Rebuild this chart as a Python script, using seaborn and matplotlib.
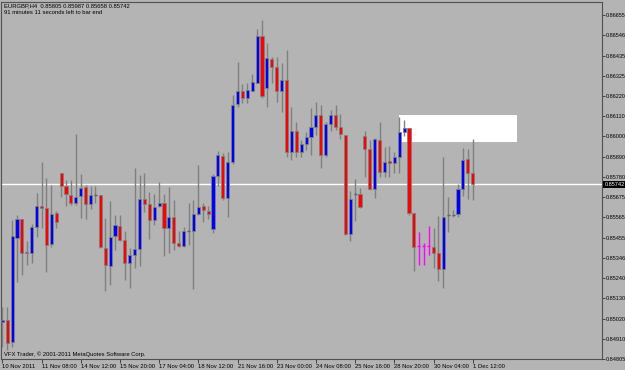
import matplotlib
matplotlib.use("Agg")
import matplotlib.pyplot as plt
import matplotlib.transforms as mtransforms
from matplotlib.patches import Rectangle
import numpy as np
import pandas as pd
import seaborn as sns

# ---------------- data (EURGBP H4) ----------------
opens = [0.85000, 0.85011, 0.84894, 0.85455, 0.85554, 0.85371, 0.85374, 0.85511, 0.85626, 0.85616,
         0.85421, 0.85586, 0.85802, 0.85735, 0.85685, 0.85643, 0.85679, 0.85726, 0.85635, 0.85685,
         0.85685, 0.85401, 0.85304, 0.85464, 0.85519, 0.85442, 0.85320, 0.85361, 0.85392, 0.85663,
         0.85636, 0.85550, 0.85626, 0.85640, 0.85505, 0.85568, 0.85428, 0.85412, 0.85492, 0.85492,
         0.85582, 0.85626, 0.85599, 0.85500, 0.85789, 0.85897, 0.85667, 0.85864, 0.86175, 0.86242,
         0.86209, 0.86247, 0.86290, 0.86542, 0.86260, 0.86416, 0.86373, 0.86245, 0.86305, 0.85918,
         0.86031, 0.85918, 0.85958, 0.85999, 0.86053, 0.86116, 0.85900, 0.86066, 0.86116, 0.86053,
         0.86008, 0.85473, 0.85689, 0.85689, 0.86004, 0.85931, 0.85717, 0.85981, 0.85810, 0.85868,
         0.85856, 0.85891, 0.86023, 0.86044, 0.85586, 0.85410, 0.85410, 0.85410, 0.85406, 0.85371,
         0.85286, 0.85577, 0.85577, 0.85582, 0.85715, 0.85879, 0.85805]
highs = [0.85081, 0.85081, 0.85550, 0.85577, 0.85556, 0.85437, 0.85529, 0.85694, 0.85861, 0.85778,
         0.85739, 0.85599, 0.85805, 0.85766, 0.85766, 0.86012, 0.85798, 0.85739, 0.85735, 0.85735,
         0.85686, 0.85559, 0.85652, 0.85577, 0.85577, 0.85491, 0.85398, 0.85829, 0.85793, 0.85805,
         0.85699, 0.85690, 0.85753, 0.85690, 0.85730, 0.85658, 0.85491, 0.85514, 0.85643, 0.85658,
         0.85847, 0.85640, 0.85627, 0.85798, 0.85922, 0.85910, 0.85915, 0.86224, 0.86398, 0.86283,
         0.86287, 0.86335, 0.86580, 0.86628, 0.86502, 0.86427, 0.86427, 0.86395, 0.86466, 0.86161,
         0.86080, 0.85981, 0.86026, 0.86152, 0.86188, 0.86170, 0.86080, 0.86143, 0.86170, 0.86121,
         0.86010, 0.85708, 0.85769, 0.85721, 0.86030, 0.85981, 0.85990, 0.86080, 0.85945, 0.85949,
         0.85918, 0.86107, 0.86089, 0.86046, 0.85588, 0.85484, 0.85428, 0.85519, 0.85505, 0.85573,
         0.85888, 0.85672, 0.85604, 0.85744, 0.85937, 0.85931, 0.85987]
lows = [0.84866, 0.84849, 0.84867, 0.85218, 0.85254, 0.85308, 0.85320, 0.85460, 0.85505, 0.85271,
        0.85406, 0.85505, 0.85676, 0.85627, 0.85631, 0.85631, 0.85559, 0.85554, 0.85608, 0.85640,
        0.85399, 0.85169, 0.85200, 0.85388, 0.85440, 0.85227, 0.85187, 0.85290, 0.85304, 0.85595,
        0.85448, 0.85523, 0.85622, 0.85358, 0.85374, 0.85388, 0.85406, 0.85406, 0.85415, 0.85177,
        0.85577, 0.85541, 0.85554, 0.85478, 0.85735, 0.85658, 0.85565, 0.85852, 0.86158, 0.86179,
        0.86179, 0.86242, 0.86288, 0.86209, 0.86158, 0.86287, 0.86188, 0.86134, 0.85891, 0.85873,
        0.85891, 0.85891, 0.85927, 0.85900, 0.86008, 0.85832, 0.85891, 0.86031, 0.86035, 0.85985,
        0.85469, 0.85438, 0.85546, 0.85613, 0.85780, 0.85712, 0.85670, 0.85783, 0.85783, 0.85783,
        0.85805, 0.85805, 0.86004, 0.85577, 0.85277, 0.85308, 0.85308, 0.85361, 0.85293, 0.85223,
        0.85187, 0.85484, 0.85565, 0.85565, 0.85681, 0.85662, 0.85658]
closes = [0.85011, 0.84889, 0.85464, 0.85554, 0.85371, 0.85376, 0.85511, 0.85626, 0.85616, 0.85415,
          0.85582, 0.85538, 0.85735, 0.85690, 0.85643, 0.85676, 0.85724, 0.85635, 0.85685, 0.85685,
          0.85403, 0.85308, 0.85460, 0.85523, 0.85442, 0.85320, 0.85361, 0.85392, 0.85663, 0.85635,
          0.85550, 0.85619, 0.85640, 0.85505, 0.85568, 0.85428, 0.85412, 0.85491, 0.85492, 0.85582,
          0.85622, 0.85604, 0.85581, 0.85789, 0.85900, 0.85667, 0.85861, 0.86170, 0.86242, 0.86209,
          0.86251, 0.86292, 0.86542, 0.86218, 0.86422, 0.86373, 0.86245, 0.86305, 0.85918, 0.86031,
          0.85918, 0.85960, 0.85999, 0.86053, 0.86116, 0.85900, 0.86067, 0.86116, 0.86053, 0.86012,
          0.85473, 0.85662, 0.85689, 0.85622, 0.85931, 0.85717, 0.85985, 0.85810, 0.85864, 0.85856,
          0.85891, 0.86023, 0.86044, 0.85586, 0.85406, 0.85410, 0.85410, 0.85410, 0.85371, 0.85286,
          0.85565, 0.85577, 0.85577, 0.85715, 0.85873, 0.85802, 0.85742]
marked_bars = [85, 86, 87]          # magenta-highlighted bars

time_tick_bars = [0, 8, 16, 24, 32, 40, 48, 56, 64, 72, 80, 88, 96]
time_tick_labels = ["10 Nov 2011", "11 Nov 08:00", "14 Nov 12:00", "15 Nov 20:00", "17 Nov 04:00",
                    "18 Nov 12:00", "21 Nov 16:00", "23 Nov 00:00", "24 Nov 08:00", "25 Nov 16:00",
                    "28 Nov 20:00", "30 Nov 04:00", "1 Dec 12:00"]
price_ticks = [0.86655, 0.86546, 0.86435, 0.86325, 0.86220, 0.86110, 0.86000, 0.85890, 0.85780,
               0.85675, 0.85565, 0.85455, 0.85346, 0.85240, 0.85130, 0.85020, 0.84910, 0.84805]
price_tick_labels = ["0.86655", "0.86546", "0.86435", "0.86325", "0.86220", "0.86110", "0.86000",
                     "0.85890", "0.85780", "0.85675", "0.85565", "0.85455", "0.85346", "0.85240",
                     "0.85130", "0.85020", "0.84910", "0.84805"]
zone_bars = [81, 105]
zone_prices = [0.85972, 0.86113]
symbol = "EURGBP,H4"
timer_text = "91 minutes 11 seconds left to bar end"
footer_text = "VFX Trader, \u00a9 2001-2011 MetaQuotes Software Corp."

# ---------------- style ----------------
W, H = 625, 370
BG = "#B4B4B4"
WICK = "#808080"
sns.set_theme(style="white", rc={"axes.facecolor": BG, "figure.facecolor": BG,
                                 "axes.edgecolor": "#505050", "axes.linewidth": 0.8})
plt.rcParams["font.family"] = ["Liberation Sans Narrow", "Liberation Sans", "DejaVu Sans"]
FS = 4.2
FSY = 4.0

df = pd.DataFrame({"bar": np.arange(len(opens)), "open": opens, "high": highs,
                   "low": lows, "close": closes})
df["kind"] = np.where(df["close"] > df["open"], "bull",
                      np.where(df["close"] < df["open"], "bear", "doji"))
df.loc[df["bar"].isin(marked_bars), "kind"] = "mark"

fig = plt.figure(figsize=(W / 100, H / 100), dpi=100)
ax_left, ax_right, ax_top, ax_bot = 1.5, 602.3, 1.7, 359.3
ax = fig.add_axes([ax_left / W, 1 - ax_bot / H, (ax_right - ax_left) / W, (ax_bot - ax_top) / H])
ax.set_facecolor(BG)

spacing = 4.9
xl = -(2.3 - ax_left) / spacing
xr = xl + (ax_right - ax_left) / spacing
ax.set_xlim(xl, xr)
ax.set_ylim(0.84801, 0.86725)

# zone rectangle (behind candles)
ax.add_patch(Rectangle((zone_bars[0], zone_prices[0]), zone_bars[1] - zone_bars[0],
                       zone_prices[1] - zone_prices[0], facecolor="white", edgecolor="none",
                       zorder=1))

# bid line
last = closes[-1]
sns.lineplot(x=[xl, xr], y=[last, last], color="white", linewidth=1.0, ax=ax, zorder=2)

bw = 0.62
colors = {"bull": "#0000FF", "bear": "#FF0000"}
for kind, sub in df.groupby("kind"):
    wc = "#FF00FF" if kind == "mark" else WICK
    ax.vlines(sub["bar"], sub["low"], sub["high"], color=wc, linewidth=1.0, zorder=3)
    if kind in colors:
        bottom = np.minimum(sub["open"], sub["close"])
        height = np.abs(sub["close"] - sub["open"])
        ax.bar(sub["bar"], height, bottom=bottom, width=bw, color=colors[kind],
               edgecolor=WICK, linewidth=0.6, zorder=4)
    else:
        dc = "#FF00FF" if kind == "mark" else "#606060"
        ax.hlines(sub["open"], sub["bar"] - bw / 2, sub["bar"] + bw / 2, color=dc,
                  linewidth=1.0, zorder=4)

# axes
for s in ax.spines.values():
    s.set_visible(True)
    s.set_color("#505050")
    s.set_linewidth(0.8)
ax.yaxis.tick_right()
ax.set_yticks(price_ticks)
ax.set_yticklabels(price_tick_labels)
ax.set_xticks(time_tick_bars)
ax.set_xticklabels(time_tick_labels)
ax.tick_params(axis="y", which="major", direction="out", length=1.8, width=0.6,
               color="#303030", pad=0.6, labelsize=FSY, labelcolor="black", right=True, left=False)
ax.tick_params(axis="x", which="major", direction="out", length=2.8, width=0.6,
               color="#303030", pad=0.8, labelsize=FS, labelcolor="black", bottom=True)
for lab in ax.get_xticklabels():
    lab.set_horizontalalignment("left")
ax.set_xlabel("")
ax.set_ylabel("")
ax.grid(False)

# current price tag
trans = mtransforms.blended_transform_factory(ax.transAxes, ax.transData)
ax.text(1.0 + 2.0 / (ax_right - ax_left), last, f"{last:.5f}", transform=trans, ha="left",
        va="center", color="white", fontsize=FSY, clip_on=False, zorder=10,
        bbox=dict(facecolor="black", edgecolor="none", pad=0.6))

# header and footer texts
header = f"{symbol}  {opens[-1]:.5f} {highs[-1]:.5f} {lows[-1]:.5f} {closes[-1]:.5f}"
fig.text(3.5 / W, 1 - 6 / H, header, fontsize=FS, color="black", va="center", ha="left")
fig.text(3.5 / W, 1 - 13 / H, timer_text, fontsize=FS, color="black", va="center", ha="left")
fig.text(3.5 / W, 1 - 354 / H, footer_text, fontsize=FS, color="black", va="center", ha="left")

fig.savefig("out.png", dpi=100, facecolor=BG)
